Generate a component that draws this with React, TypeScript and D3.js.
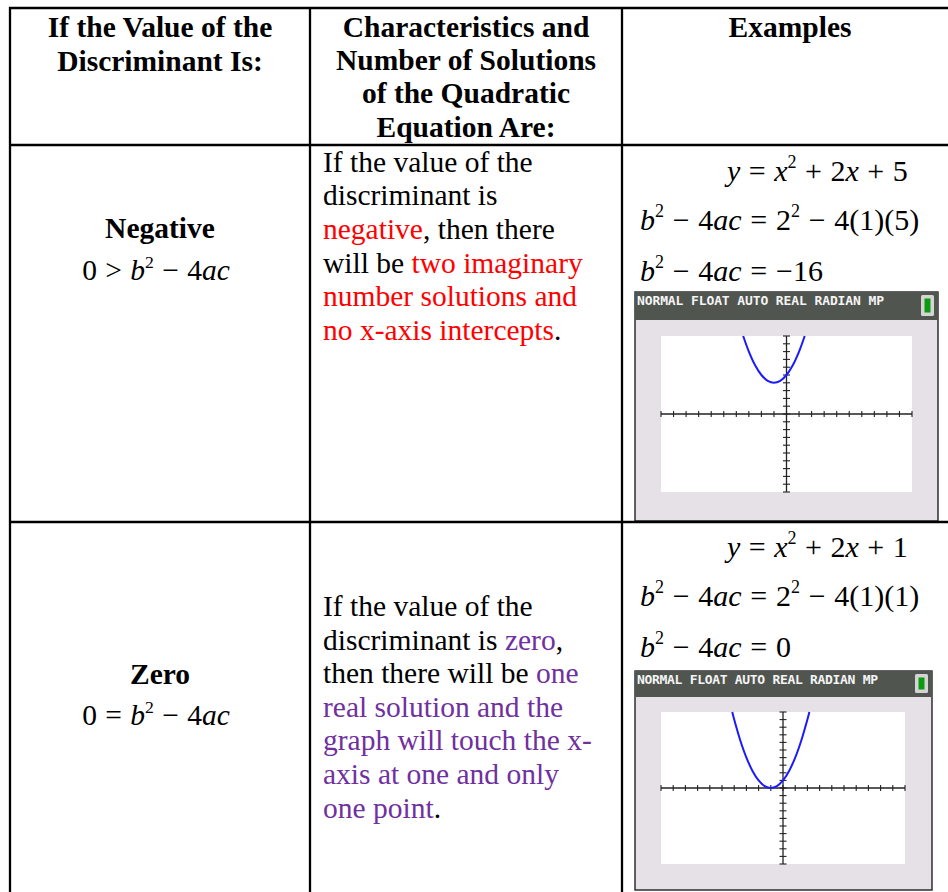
import React from 'react';
import * as d3 from 'd3';

const RED = '#ff0000';
const PURPLE = '#7030a0';
const INK = '#000000';

// header cells
const headerCol1 = ['If the Value of the', 'Discriminant Is:'];
const headerCol2 = ['Characteristics and', 'Number of Solutions', 'of the Quadratic', 'Equation Are:'];
const headerCol3 = ['Examples'];

// row labels
const rowLabels = ['Negative', 'Zero'];
const rowRelations = ['>', '='];

// description lines: [text, colour]
type Seg = [string, string];
const descNegative: Seg[][] = [
  [['If the value of the', INK]],
  [['discriminant is', INK]],
  [['negative', RED], [', then there', INK]],
  [['will be ', INK], ['two imaginary', RED]],
  [['number solutions and', RED]],
  [['no x-axis intercepts', RED], ['.', INK]],
];
const descZero: Seg[][] = [
  [['If the value of the', INK]],
  [['discriminant is ', INK], ['zero', PURPLE], [',', INK]],
  [['then there will be ', INK], ['one', PURPLE]],
  [['real solution and the', PURPLE]],
  [['graph will touch the x-', PURPLE]],
  [['axis at one and only', PURPLE]],
  [['one point', PURPLE], ['.', INK]],
];

// example equations y = x^2 + bx + c
const coefB = [2, 2];
const coefC = [5, 1];
const discValues = ['\u221216', '0'];

// calculator screen
const statusText = 'NORMAL FLOAT AUTO REAL RADIAN MP';
const windowX: [number, number] = [-10, 10];
const windowY: [number, number] = [-10, 10];

// curve points
const curveNegX = [-3.45, -3, -2.5, -2, -1.5, -1, -0.5, 0, 0.5, 1, 1.45];
const curveNegY = [10, 8, 6.25, 5, 4.25, 4, 4.25, 5, 6.25, 8, 10];
const curveZeroX = [-4.16, -4, -3.5, -3, -2.5, -2, -1.5, -1, -0.5, 0, 0.5, 1, 1.5, 2, 2.16];
const curveZeroY = [10, 9, 6.25, 4, 2.25, 1, 0.25, 0, 0.25, 1, 2.25, 4, 6.25, 9, 10];

const FONT = '"Liberation Serif", "Times New Roman", serif';
const FS = 29.5;
const LINE = 33.6;
const MS = 30;

type Tok = { t: string; it?: boolean; sup?: boolean };

const MathText = ({ x, y, tokens, anchor = 'start', size = MS, gap = 0 }: { x: number; y: number; tokens: Tok[]; anchor?: string; size?: number; gap?: number }) => {
  const shift = size * 0.42;
  let prevSup = false;
  return (
    <text x={x} y={y} fontFamily={FONT} fontSize={size} textAnchor={anchor} style={{ whiteSpace: 'pre' }} wordSpacing={gap}>
      {tokens.map((tk, i) => {
        let dy = 0;
        if (tk.sup && !prevSup) dy = -shift;
        if (!tk.sup && prevSup) dy = shift;
        prevSup = !!tk.sup;
        return (
          <tspan key={i} dy={dy} fontStyle={tk.it ? 'italic' : 'normal'} fontSize={tk.sup ? size * 0.6 : size}>
            {tk.t}
          </tspan>
        );
      })}
    </text>
  );
};

const condTokens = (rel: string): Tok[] => [
  { t: `0 ${rel} ` }, { t: 'b', it: true }, { t: '2', sup: true }, { t: ' \u2212 4' }, { t: 'ac', it: true },
];
const eqTokens = (b: number, c: number): Tok[] => [
  { t: 'y', it: true }, { t: ' = ' }, { t: 'x', it: true }, { t: '2', sup: true }, { t: ' + ' + b }, { t: 'x', it: true }, { t: ' + ' + c },
];
const subTokens = (b: number, c: number): Tok[] => [
  { t: 'b', it: true }, { t: '2', sup: true }, { t: ' \u2212 4' }, { t: 'ac', it: true }, { t: ' = ' + b }, { t: '2', sup: true }, { t: ` \u2212 4(1)(${c})` },
];
const discTokens = (d: string): Tok[] => [
  { t: 'b', it: true }, { t: '2', sup: true }, { t: ' \u2212 4' }, { t: 'ac', it: true }, { t: ' = ' + d },
];

type Box = { x0: number; x1: number; y0: number; y1: number };

const Calculator = ({ panel, barH, plot, xs, ys, textLen }: { panel: Box; barH: number; plot: Box; xs: number[]; ys: number[]; textLen: number }) => {
  const xScale = d3.scaleLinear().domain(windowX).range([plot.x0, plot.x1]);
  const yScale = d3.scaleLinear().domain(windowY).range([plot.y1, plot.y0]);
  const pts = xs.map((v, i) => [v, ys[i]] as [number, number]);
  const line = d3.line<[number, number]>().x(d => xScale(d[0])).y(d => yScale(d[1])).curve(d3.curveCatmullRom);
  const ax = xScale(0);
  const ay = yScale(0);
  const bx = panel.x1 - 17;
  return (
    <g>
      <rect x={panel.x0} y={panel.y0} width={panel.x1 - panel.x0} height={panel.y1 - panel.y0} fill="#e6e1e6" stroke="#222" strokeWidth={1.4} />
      <rect x={panel.x0} y={panel.y0} width={panel.x1 - panel.x0} height={barH} fill="#505550" />
      <text x={panel.x0 + 2} y={panel.y0 + 12.8} fontFamily='"DejaVu Sans Mono", monospace' fontWeight="bold" fontSize={13} fill="#f4f4f4" textLength={textLen} lengthAdjust="spacing">
        {statusText}
      </text>
      <rect x={bx} y={panel.y0 + 3} width={13} height={barH - 7} fill="#d4d4d4" rx={1.5} />
      <rect x={bx + 3.5} y={panel.y0 + 6.5} width={6} height={barH - 14} fill="#0b9a10" />
      <rect x={plot.x0} y={plot.y0} width={plot.x1 - plot.x0} height={plot.y1 - plot.y0} fill="#ffffff" />
      <line x1={plot.x0} x2={plot.x1} y1={ay} y2={ay} stroke="#222" strokeWidth={1.3} />
      <line x1={ax} x2={ax} y1={plot.y0} y2={plot.y1} stroke="#222" strokeWidth={1.3} />
      {xScale.ticks(20).map(t => (
        <line key={'x' + t} x1={xScale(t)} x2={xScale(t)} y1={ay - 3} y2={ay + 3} stroke="#222" strokeWidth={1.1} />
      ))}
      {yScale.ticks(20).map(t => (
        <line key={'y' + t} x1={ax - 3.5} x2={ax + 3.5} y1={yScale(t)} y2={yScale(t)} stroke="#222" strokeWidth={1.1} />
      ))}
      <path d={line(pts) ?? ''} fill="none" stroke="#1a1aff" strokeWidth={2} />
    </g>
  );
};

const App = () => {
  const W = 948;
  const H = 892;
  const colX = [10, 310, 622];
  const rowY = [8, 145, 522];
  const descs = [descNegative, descZero];
  const descTop = [171.7, 616];
  const labelY = [[238, 280], [684, 725]];
  const mathY = [[181, 230, 281], [557, 606, 657]];
  const calcs = [
    { panel: { x0: 635, x1: 938, y0: 292, y1: 521 }, barH: 28, plot: { x0: 661, x1: 912, y0: 336, y1: 492 }, xs: curveNegX, ys: curveNegY, textLen: 247 },
    { panel: { x0: 635, x1: 932, y0: 671, y1: 890 }, barH: 26, plot: { x0: 661, x1: 905, y0: 712, y1: 864 }, xs: curveZeroX, ys: curveZeroY, textLen: 241 },
  ];

  return (
    <svg width={W} height={H} style={{ position: 'absolute', left: 0, top: 0, background: '#fff' }}>
      {/* header */}
      {headerCol1.map((s, i) => (
        <text key={s} x={160} y={37 + i * LINE} textAnchor="middle" fontFamily={FONT} fontWeight="bold" fontSize={FS}>{s}</text>
      ))}
      {headerCol2.map((s, i) => (
        <text key={s} x={466} y={37 + i * 33.2} textAnchor="middle" fontFamily={FONT} fontWeight="bold" fontSize={FS}>{s}</text>
      ))}
      {headerCol3.map(s => (
        <text key={s} x={790} y={37} textAnchor="middle" fontFamily={FONT} fontWeight="bold" fontSize={FS}>{s}</text>
      ))}

      {rowLabels.map((lab, r) => (
        <g key={lab}>
          <text x={160} y={labelY[r][0]} textAnchor="middle" fontFamily={FONT} fontWeight="bold" fontSize={FS}>{lab}</text>
          <MathText x={156} y={labelY[r][1]} anchor="middle" tokens={condTokens(rowRelations[r])} size={FS} gap={1} />
          {descs[r].map((segs, i) => (
            <text key={i} x={323} y={descTop[r] + i * LINE} fontFamily={FONT} fontSize={FS} style={{ whiteSpace: 'pre' }}>
              {segs.map(([t, c], j) => <tspan key={j} fill={c}>{t}</tspan>)}
            </text>
          ))}
          <MathText x={727} y={mathY[r][0]} tokens={eqTokens(coefB[r], coefC[r])} gap={1} />
          <MathText x={640} y={mathY[r][1]} tokens={subTokens(coefB[r], coefC[r])} gap={1.2} />
          <MathText x={640} y={mathY[r][2]} tokens={discTokens(discValues[r])} gap={1.2} />
          <Calculator {...calcs[r]} />
        </g>
      ))}

      {/* grid */}
      {rowY.map(y => <line key={'h' + y} x1={colX[0] - 1} x2={W} y1={y} y2={y} stroke="#000" strokeWidth={2.3} />)}
      {colX.map(x => <line key={'v' + x} x1={x} x2={x} y1={rowY[0] - 1} y2={H} stroke="#000" strokeWidth={2.3} />)}
    </svg>
  );
};

export default App;
